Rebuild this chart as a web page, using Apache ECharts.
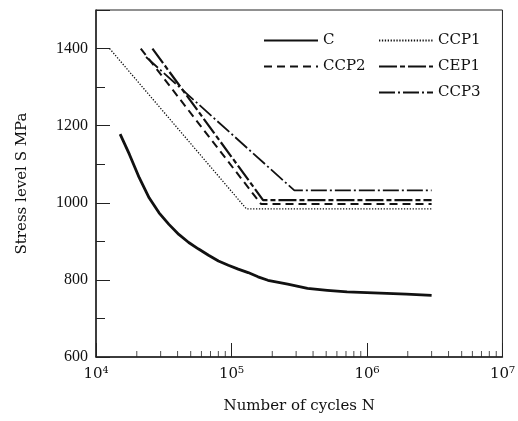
<!DOCTYPE html>
<html lang="en">
<head>
	<meta charset="UTF-8">
	<title>S-N curves</title>
	<script src="https://cdn.jsdelivr.net/npm/echarts@6/dist/echarts.min.js"></script>
	<style>
		html, body { margin: 0; padding: 0; background: #fff; }
		#chart { width: 518px; height: 421px; }
	</style>
</head>
<body>
	<div id="chart"></div>
	<script>
		// values (N = cycles, S = MPa)
		var cN = [15070, 17620, 20850, 24660, 29190, 34540, 40850, 48350, 57210, 67700, 80100, 94800,
			112100, 132700, 157000, 185700, 260000, 364000, 509000, 713000, 998000, 1400000, 1950000, 3000000];
		var cS = [1178, 1126, 1065, 1013, 974, 944, 918, 897, 880, 864, 849, 838,
			828, 819, 808, 799, 789, 778, 773, 769, 767, 765, 763, 760];
		var ccp1N = [12600, 129000, 3000000];
		var ccp1S = [1400, 984, 984];
		var ccp2N = [21400, 165000, 3000000];
		var ccp2S = [1400, 997, 997];
		var cep1N = [26100, 171000, 3000000];
		var cep1S = [1400, 1007, 1007];
		var ccp3N = [23400, 291000, 3000000];
		var ccp3S = [1378, 1032, 1032];

		var yTicks = [600, 800, 1000, 1200, 1400];
		var xDecades = [4, 5, 6, 7];
		var minorMult = [2, 3, 4, 5, 6, 7, 8, 9];

		var sup = { '4': '\u2074', '5': '\u2075', '6': '\u2076', '7': '\u2077' };

		function pairs(xs, ys) {
			return xs.map(function (x, i) { return [x, ys[i]] })
		}

		// minor ticks on the log axis (2..9 x 10^k)
		var minorTicks = [];
		xDecades.slice(0, 3).forEach(function (d) {
			minorMult.forEach(function (m) {
				minorTicks.push([m * Math.pow(10, d), 600])
			})
		});

		var serif = 'DejaVu Serif';
		var chart = echarts.init(document.getElementById('chart'));
		var legendBase = {
			orient: 'vertical',
			top: 28,
			itemWidth: 54, itemHeight: 14, itemGap: 11,
			itemStyle: { opacity: 0 },
			textStyle: { fontFamily: serif, fontSize: 15, color: '#111' }
		};
		var option = {
			animation: false,
			grid: {
				left: 96, right: 11, top: 10, bottom: 64,
				show: true, borderColor: '#222', borderWidth: 1
			},
			legend: [
				Object.assign({}, legendBase, { data: ['C', 'CCP2'], left: 258 }),
				Object.assign({}, legendBase, { data: ['CCP1', 'CEP1', 'CCP3'], left: 373 })
			],
			xAxis: {
				type: 'log',
				logBase: 10,
				min: 1e4, max: 1e7,
				name: 'Number of cycles N',
				nameLocation: 'middle',
				nameGap: 42,
				nameTextStyle: { fontFamily: serif, fontSize: 15, color: '#111' },
				axisLine: { lineStyle: { color: '#222', width: 1.5 } },
				axisTick: { inside: true, length: 14, lineStyle: { color: '#222' } },
				splitLine: { show: false },
				axisLabel: {
					margin: 10,
					fontFamily: serif, fontSize: 15, color: '#111',
					formatter: function (v) {
						var e = Math.round(Math.log10(v));
						return '10' + sup[e];
					}
				}
			},
			yAxis: [{
				type: 'value',
				min: 600, max: 1500, interval: 200,
				name: 'Stress level S MPa',
				nameLocation: 'middle',
				nameGap: 66,
				nameTextStyle: { fontFamily: serif, fontSize: 15, color: '#111' },
				axisLine: { show: true, lineStyle: { color: '#222', width: 1.5 } },
				axisTick: { show: true, inside: true, length: 14, lineStyle: { color: '#222' } },
				splitLine: { show: false },
				axisLabel: {
					margin: 8,
					fontFamily: 'Liberation Serif', fontSize: 16, color: '#111',
					formatter: function (v) { return yTicks.indexOf(v) >= 0 ? String(v) : '' }
				}
			}, {
				type: 'value',
				position: 'left',
				offset: 0,
				min: 600, max: 1500, interval: 100,
				axisLine: { show: false },
				axisTick: { show: true, inside: true, length: 9, lineStyle: { color: '#222' } },
				axisLabel: { show: false },
				splitLine: { show: false }
			}],
			series: [{
				name: 'C',
				type: 'line',
				data: pairs(cN, cS),
				symbol: 'none',
				lineStyle: { color: '#111', width: 2.8, join: 'round' },
				itemStyle: { color: '#111' }
			}, {
				name: 'CCP1',
				type: 'line',
				data: pairs(ccp1N, ccp1S),
				symbol: 'none',
				lineStyle: { color: '#111', width: 1.3, type: [1.3, 1.6] },
				itemStyle: { color: '#111' }
			}, {
				name: 'CCP2',
				type: 'line',
				data: pairs(ccp2N, ccp2S),
				symbol: 'none',
				lineStyle: { color: '#111', width: 2, type: [8, 5] },
				itemStyle: { color: '#111' }
			}, {
				name: 'CEP1',
				type: 'line',
				data: pairs(cep1N, cep1S),
				symbol: 'none',
				lineStyle: { color: '#111', width: 2.2, type: [18, 3, 5, 3] },
				itemStyle: { color: '#111' }
			}, {
				name: 'CCP3',
				type: 'line',
				data: pairs(ccp3N, ccp3S),
				symbol: 'none',
				lineStyle: { color: '#111', width: 1.8, type: [16, 3, 2, 3] },
				itemStyle: { color: '#111' }
			}, {
				name: 'minor',
				type: 'scatter',
				data: minorTicks,
				symbol: 'rect',
				symbolSize: [1, 6],
				symbolOffset: [0, -3],
				itemStyle: { color: '#222' },
				silent: true,
				z: 1
			}]
		};
		chart.setOption(option);
	</script>
</body>
</html>
